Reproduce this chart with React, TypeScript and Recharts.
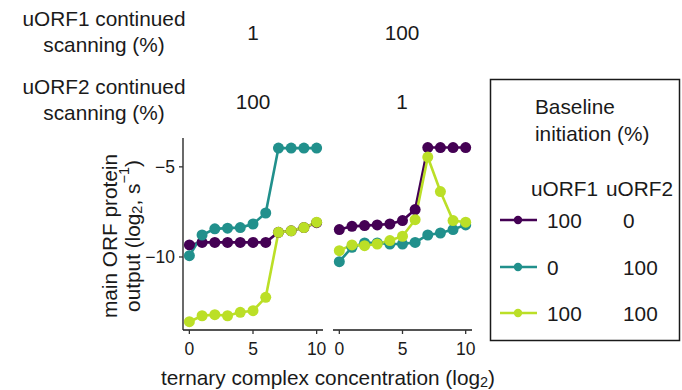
import React from 'react';
import { LineChart, Line, XAxis, YAxis } from 'recharts';

const concentration = [0, 1, 2, 3, 4, 5, 6, 7, 8, 9, 10];
const purpleLeft = [-9.33, -9.19, -9.19, -9.19, -9.19, -9.19, -9.19, -8.63, -8.55, -8.37, -8.1];
const tealLeft = [-9.93, -8.78, -8.44, -8.4, -8.37, -8.17, -7.56, -3.96, -3.96, -3.96, -3.96];
const greenLeft = [-13.59, -13.26, -13.2, -13.26, -13.07, -12.98, -12.24, -8.63, -8.55, -8.37, -8.07];
const purpleRight = [-8.48, -8.3, -8.26, -8.22, -8.17, -7.98, -7.37, -3.93, -3.93, -3.93, -3.93];
const tealRight = [-10.26, -9.46, -9.22, -9.22, -9.28, -9.28, -9.19, -8.78, -8.67, -8.48, -8.22];
const greenRight = [-9.65, -9.33, -9.37, -9.28, -9.09, -8.85, -7.93, -4.46, -6.37, -7.98, -8.07];

const xTicks = [0, 5, 10];
const yTicks = [-10, -5];
const uorf1Scanning = ['1', '100'];
const uorf2Scanning = ['100', '1'];
const legendUorf1 = ['100', '0', '100'];
const legendUorf2 = ['0', '100', '100'];

const COLORS = ['#440154', '#21908C', '#BBDF27'];
const FONT = '"Liberation Sans", Arial, Helvetica, sans-serif';

const buildRows = (p: number[], t: number[], g: number[]) =>
  concentration.map((x, i) => ({ x, p: p[i], t: t[i], g: g[i] }));

const leftRows = buildRows(purpleLeft, tealLeft, greenLeft);
const rightRows = buildRows(purpleRight, tealRight, greenRight);

const fmt = (v: number) => String(v).replace('-', '\u2212');
const tickStyle = { fontSize: 17.5, fill: '#1a1a1a', fontFamily: FONT };

function series() {
  const keys = ['p', 't', 'g'];
  const lines = keys.map((k, i) => (
    <Line key={'l' + k} dataKey={k} stroke={COLORS[i]} strokeWidth={2.6} dot={false}
      activeDot={false} isAnimationActive={false} type="linear" />
  ));
  const dots = keys.map((k, i) => (
    <Line key={'d' + k} dataKey={k} stroke="none" strokeWidth={0}
      dot={{ r: 5.5, fill: COLORS[i], stroke: 'none' }}
      activeDot={false} isAnimationActive={false} type="linear" />
  ));
  return [...lines, ...dots];
}

function Panel({ rows, showY, width }: { rows: any[]; showY: boolean; width: number }) {
  return (
    <LineChart width={width} height={390} data={rows}
      margin={{ top: 138, right: showY ? 7 : 10, bottom: 30, left: 0 }}>
      <XAxis dataKey="x" type="number" domain={[-0.5, 10.5]} ticks={xTicks}
        allowDataOverflow height={30} tick={tickStyle} tickSize={4} tickMargin={9}
        stroke="#1a1a1a" axisLine={{ stroke: '#1a1a1a', strokeWidth: 1.3 }}
        tickLine={{ stroke: '#333', strokeWidth: 1.3 }} interval={0} />
      <YAxis type="number" domain={[-14.05, -3.4]} ticks={yTicks} allowDataOverflow
        hide={!showY} width={183} tick={tickStyle} tickSize={4} tickMargin={4}
        tickFormatter={fmt} axisLine={{ stroke: '#1a1a1a', strokeWidth: 1.3 }}
        tickLine={{ stroke: '#333', strokeWidth: 1.3 }} interval={0} />
      {series()}
    </LineChart>
  );
}

export default function App() {
  const txt = { fontFamily: FONT, fontSize: 20.8, fill: '#1a1a1a' } as any;
  const rowsY = [220, 267, 313];
  return (
    <div style={{ position: 'fixed', left: 0, top: 0, width: 682, height: 390, background: '#fff', overflow: 'hidden' }}>
      <div style={{ position: 'absolute', left: 0, top: 0 }}>
        <Panel rows={leftRows} showY={true} width={330} />
      </div>
      <div style={{ position: 'absolute', left: 333, top: 0 }}>
        <Panel rows={rightRows} showY={false} width={149} />
      </div>
      <svg width={682} height={390} style={{ position: 'absolute', left: 0, top: 0, pointerEvents: 'none' }}>
        {/* header strips */}
        <text {...txt} x={104} y={18} textAnchor="middle" dominantBaseline="central">uORF1 continued</text>
        <text {...txt} x={104} y={44} textAnchor="middle" dominantBaseline="central">scanning (%)</text>
        <text {...txt} x={104} y={86} textAnchor="middle" dominantBaseline="central">uORF2 continued</text>
        <text {...txt} x={104} y={112} textAnchor="middle" dominantBaseline="central">scanning (%)</text>
        <text {...txt} x={253} y={32} textAnchor="middle" dominantBaseline="central">{uorf1Scanning[0]}</text>
        <text {...txt} x={402} y={32} textAnchor="middle" dominantBaseline="central">{uorf1Scanning[1]}</text>
        <text {...txt} x={253} y={101} textAnchor="middle" dominantBaseline="central">{uorf2Scanning[0]}</text>
        <text {...txt} x={402} y={101} textAnchor="middle" dominantBaseline="central">{uorf2Scanning[1]}</text>

        {/* y axis title */}
        <g transform="translate(109,236) rotate(-90)">
          <text {...txt} x={0} y={0} textAnchor="middle" dominantBaseline="central">main ORF protein</text>
        </g>
        <g transform="translate(132,236) rotate(-90)">
          <text {...txt} x={0} y={0} textAnchor="middle" dominantBaseline="central">
            output (log<tspan fontSize={14.5} dy={5}>2</tspan><tspan dy={-5}>, s</tspan><tspan fontSize={14.5} dy={-8}>{'\u22121'}</tspan><tspan dy={8}>)</tspan>
          </text>
        </g>

        {/* x axis title */}
        <text {...txt} x={328} y={377} textAnchor="middle" dominantBaseline="central">
          ternary complex concentration (log<tspan fontSize={14.5} dy={5}>2</tspan><tspan dy={-5}>)</tspan>
        </text>

        {/* legend */}
        <rect x={490.5} y={79.5} width={189} height={261} fill="none" stroke="#1a1a1a" strokeWidth={1.5} />
        <text {...txt} x={535} y={106} dominantBaseline="central">Baseline</text>
        <text {...txt} x={535} y={133} dominantBaseline="central">initiation (%)</text>
        <text {...txt} x={531} y={188} dominantBaseline="central">uORF1</text>
        <text {...txt} x={606} y={188} dominantBaseline="central">uORF2</text>
        {rowsY.map((y, i) => (
          <g key={i}>
            <line x1={500} x2={537} y1={y} y2={y} stroke={COLORS[i]} strokeWidth={2.6} />
            <circle cx={518} cy={y} r={4.2} fill={COLORS[i]} />
            <text {...txt} x={547} y={y} dominantBaseline="central">{legendUorf1[i]}</text>
            <text {...txt} x={623} y={y} dominantBaseline="central">{legendUorf2[i]}</text>
          </g>
        ))}
      </svg>
    </div>
  );
}
